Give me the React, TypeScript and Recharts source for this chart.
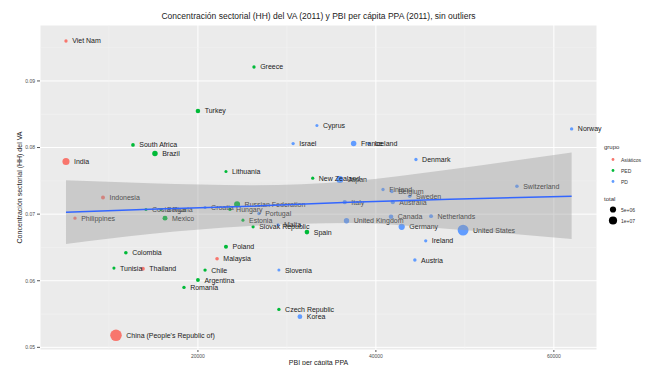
import {
  Area,
  CartesianGrid,
  ComposedChart,
  LabelList,
  Line,
  Scatter,
  XAxis,
  YAxis,
  ZAxis,
} from "recharts";

// País, PBI per cápita PPA (2011), concentración HH del VA (2011), grupo y VA total
const paises = [
  "Viet Nam", "Greece", "Turkey", "South Africa", "Brazil", "India", "Cyprus", "Israel",
  "France", "Iceland", "Norway", "Lithuania", "New Zealand", "Japan", "Denmark", "Switzerland",
  "Finland", "Belgium", "Sweden", "Australia", "Italy", "United Kingdom", "Canada", "Netherlands",
  "Germany", "United States", "Ireland", "Austria", "Indonesia", "Philippines", "Costa Rica", "Bulgaria",
  "Mexico", "Croatia", "Hungary", "Russian Federation", "Portugal", "Estonia", "Slovak Republic", "Malta",
  "Spain", "Poland", "Malaysia", "Chile", "Slovenia", "Argentina", "Romania", "Colombia",
  "Tunisia", "Thailand", "Czech Republic", "Korea", "China (People's Republic of)",
];
const pbiPerCapita = [
  5170, 26300, 20000, 12700, 15170, 5170, 33370, 30700,
  37500, 39200, 62000, 23150, 32900, 35950, 44500, 55850,
  40800, 41800, 43800, 41900, 36500, 36700, 41700, 46200,
  42900, 49800, 45600, 44380, 9330, 6180, 14160, 15850,
  16300, 20800, 23600, 24400, 26860, 25060, 26200, 29000,
  32250, 23150, 22150, 20800, 29100, 20000, 18430, 11900,
  10560, 13820, 29100, 31460, 10790,
];
const hhVA = [
  0.096, 0.0921, 0.0855, 0.0804, 0.0791, 0.0779, 0.0833, 0.0806,
  0.0806, 0.0806, 0.0828, 0.0764, 0.0754, 0.0752, 0.0782, 0.0742,
  0.0737, 0.0734, 0.0727, 0.0718, 0.0718, 0.069, 0.0696, 0.0697,
  0.0681, 0.0676, 0.066, 0.0631, 0.0725, 0.0694, 0.0707, 0.0707,
  0.0694, 0.071, 0.0707, 0.0715, 0.0701, 0.0691, 0.0681, 0.0684,
  0.0673, 0.0651, 0.0633, 0.0616, 0.0616, 0.0601, 0.059, 0.0642,
  0.0619, 0.0618, 0.0557, 0.0546, 0.0518,
];
const grupo = [
  "Asiáticos", "PED", "PED", "PED", "PED", "Asiáticos", "PD", "PD",
  "PD", "PD", "PD", "PED", "PED", "PD", "PD", "PD",
  "PD", "PD", "PD", "PD", "PD", "PD", "PD", "PD",
  "PD", "PD", "PD", "PD", "Asiáticos", "Asiáticos", "PED", "PED",
  "PED", "PD", "PED", "PED", "PD", "PED", "PED", "PD",
  "PED", "PED", "Asiáticos", "PED", "PD", "PED", "PED", "PED",
  "PED", "Asiáticos", "PED", "PD", "Asiáticos",
];
const totalVA = [
  250000, 250000, 1300000, 500000, 2300000, 4500000, 25000, 230000,
  2300000, 12000, 300000, 60000, 130000, 4400000, 230000, 400000,
  200000, 420000, 380000, 900000, 1000000, 2200000, 1300000, 700000,
  3300000, 12000000, 180000, 330000, 700000, 300000, 50000, 100000,
  1700000, 80000, 200000, 3000000, 250000, 30000, 130000, 12000,
  1400000, 800000, 450000, 280000, 50000, 700000, 320000, 450000,
  100000, 600000, 280000, 1500000, 13500000,
];

// Recta ajustada y su banda de confianza
const bandaX = [5170, 14600, 25840, 37080, 48300, 62000];
const ajuste = [0.0703, 0.07075, 0.07119, 0.07179, 0.07224, 0.07269];
const bandaInf = [0.06552, 0.06701, 0.06821, 0.06866, 0.06776, 0.06627];
const bandaSup = [0.07507, 0.07463, 0.07433, 0.07493, 0.07672, 0.07925];

const grupos = ["Asiáticos", "PED", "PD"];
const colores: Record<string, string> = {
  "Asiáticos": "#F8766D",
  PED: "#00BA38",
  PD: "#619CFF",
};

const xTicks = [20000, 40000, 60000];
const yTicks = [0.05, 0.06, 0.07, 0.08, 0.09];
const xMinor = [10000, 30000, 50000];
const yMinor = [0.055, 0.065, 0.075, 0.085, 0.095];

const puntos = paises.map((name, i) => ({
  name,
  x: pbiPerCapita[i],
  y: hhVA[i],
  grupo: grupo[i],
  total: totalVA[i],
}));

const banda = bandaX.map((x, i) => ({
  x,
  fit: ajuste[i],
  band: [bandaInf[i], bandaSup[i]],
}));

const font = "'Liberation Sans', Arial, sans-serif";
const tickStyle = { fontSize: 5, fill: "#4d4d4d", fontFamily: font };

function Leyenda() {
  return (
    <div
      style={{
        position: "absolute",
        left: 604,
        top: 144,
        fontFamily: font,
        color: "#333",
      }}>
      <div style={{ fontSize: 6, marginBottom: 4 }}>grupo</div>
      {grupos.map((g) => (
        <div key={g} style={{ display: "flex", alignItems: "center", height: 11, fontSize: 5 }}>
          <svg width={14} height={11}>
            <circle cx={9} cy={5.5} r={1.4} fill={colores[g]} />
          </svg>
          <span style={{ marginLeft: 3 }}>{g}</span>
        </div>
      ))}
      <div style={{ fontSize: 6, marginTop: 9, marginBottom: 2 }}>total</div>
      {[
        { label: "5e+06", r: 3.1 },
        { label: "1e+07", r: 4.1 },
      ].map((t) => (
        <div key={t.label} style={{ display: "flex", alignItems: "center", height: 11, fontSize: 5 }}>
          <svg width={14} height={11}>
            <circle cx={9} cy={5.5} r={t.r} fill="#000" />
          </svg>
          <span style={{ marginLeft: 3 }}>{t.label}</span>
        </div>
      ))}
    </div>
  );
}

export default function App() {
  return (
    <div style={{ position: "relative", width: 648, height: 365, background: "#fff", fontFamily: font }}>
      <style>{`body{margin:0}`}</style>
      <div
        style={{
          position: "absolute",
          left: 40,
          width: 557,
          top: 11,
          textAlign: "center",
          fontSize: 8.5,
          color: "#222",
          whiteSpace: "nowrap",
        }}>
        Concentración sectorial (HH) del VA (2011) y PBI per cápita PPA (2011), sin outliers
      </div>
      <ComposedChart
        width={648}
        height={365}
        data={banda}
        margin={{ top: 25, right: 51, bottom: 0, left: 0 }}>
        <CartesianGrid fill="#EBEBEB" stroke="#ffffff" strokeWidth={1} />
        <CartesianGrid
          fill="none"
          stroke="#F5F5F5"
          strokeWidth={0.5}
          horizontalValues={yMinor}
          verticalValues={xMinor}
        />
        <XAxis
          dataKey="x"
          type="number"
          domain={[2250, 64850]}
          ticks={xTicks}
          allowDataOverflow
          height={15}
          axisLine={false}
          tickSize={2}
          tickLine={{ stroke: "#555" }}
          tick={tickStyle}
          label={{
            value: "PBI per cápita PPA",
            position: "center",
            dy: 5,
            fontSize: 7,
            fill: "#222",
            fontFamily: font,
          }}
        />
        <YAxis
          type="number"
          domain={[0.0496, 0.0984]}
          ticks={yTicks}
          allowDataOverflow
          width={40}
          axisLine={false}
          tickSize={3}
          tickLine={{ stroke: "#555" }}
          tick={tickStyle}
          tickFormatter={(v: number) => v.toFixed(2)}
          label={{
            value: "Concentración sectorial (HH) del VA",
            angle: -90,
            position: "center",
            dx: 0,
            fontSize: 7,
            fill: "#222",
            fontFamily: font,
          }}
        />
        <ZAxis dataKey="total" type="number" domain={[0, 15000000]} range={[7, 115]} />
        {grupos.map((g) => (
          <Scatter
            key={g}
            name={g}
            data={puntos.filter((p) => p.grupo === g)}
            dataKey="y"
            fill={colores[g]}
            isAnimationActive={false}>
            <LabelList
              dataKey="name"
              position="right"
              offset={4.5}
              fontSize={7}
              fill="#1a1a1a"
              fontFamily={font}
            />
          </Scatter>
        ))}
        <Area
          dataKey="band"
          type="monotone"
          stroke="none"
          fill="#999999"
          fillOpacity={0.4}
          isAnimationActive={false}
          zIndex={2100}
        />
        <Line
          dataKey="fit"
          type="linear"
          stroke="#3366FF"
          strokeWidth={1.5}
          dot={false}
          isAnimationActive={false}
          zIndex={2200}
        />
      </ComposedChart>
      <Leyenda />
    </div>
  );
}
